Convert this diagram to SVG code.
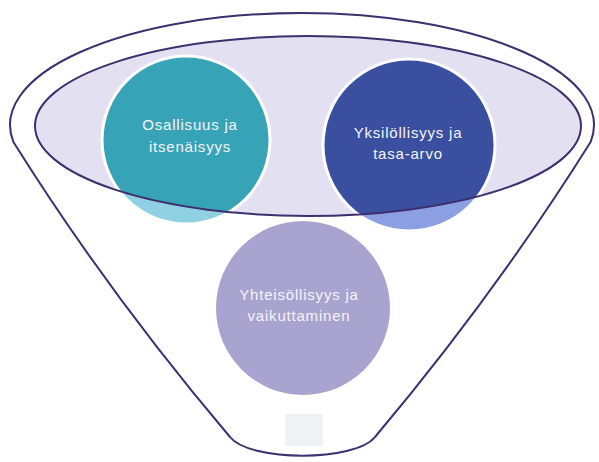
<svg xmlns="http://www.w3.org/2000/svg" width="599" height="462" viewBox="0 0 599 462">
  <style>
    .outline { fill: none; stroke: #3f2f6e; stroke-width: 2; }
    .ring { stroke: #ffffff; stroke-width: 3; }
    .label { font-family: "Liberation Sans", "Noto Sans", Arial, sans-serif; font-size: 15px; fill: #f4f4fa; text-anchor: middle; letter-spacing: 0.8px; }
  </style>
  <defs>
    <clipPath id="outside">
      <path clip-rule="evenodd" d="M0,0H599V462H0Z M35,126 A273,90 0 1 0 581,126 A273,90 0 1 0 35,126Z"/>
    </clipPath>
  </defs>
  <rect width="599" height="462" fill="#ffffff"/>

  <g id="funnel">
    <path d="M13.4,142 A292,112 0 1 1 590.6,142 Q496,293 375,437 C355,462 250,462 230,437 Q108,293 13.4,142 Z" fill="#ffffff" stroke="#3f2f6e" stroke-width="2"/>
    <rect x="285" y="414" width="38" height="32" fill="#f1f2f6"/>
  </g>

  <g id="funnel-top">
    <ellipse cx="308" cy="126" rx="273" ry="90" fill="#e3e0f2"/>
  </g>

  <g id="node-osallisuus">
    <circle class="ring" cx="186" cy="140" r="84" fill="#37a3b6"/>
    <circle class="ring" cx="186" cy="140" r="84" fill="#8fd1e2" clip-path="url(#outside)"/>
  </g>

  <g id="node-yksilollisyys">
    <circle class="ring" cx="409" cy="145" r="86" fill="#3a4f9f"/>
    <circle class="ring" cx="409" cy="145" r="86" fill="#8c9fe2" clip-path="url(#outside)"/>
  </g>

  <g id="funnel-rim">
    <ellipse class="outline" cx="308" cy="126" rx="273" ry="90"/>
  </g>

  <g id="node-yhteisollisyys">
    <circle cx="303" cy="308" r="87" fill="#a9a3d0"/>
  </g>

  <g id="connectors"/>

  <g id="labels">
    <text class="label" x="190" y="130">Osallisuus ja</text>
    <text class="label" x="190" y="152">itsenäisyys</text>
    <text class="label" x="408" y="138">Yksilöllisyys ja</text>
    <text class="label" x="408" y="159">tasa-arvo</text>
    <text class="label" x="299" y="300">Yhteisöllisyys ja</text>
    <text class="label" x="299" y="321">vaikuttaminen</text>
  </g>
</svg>
